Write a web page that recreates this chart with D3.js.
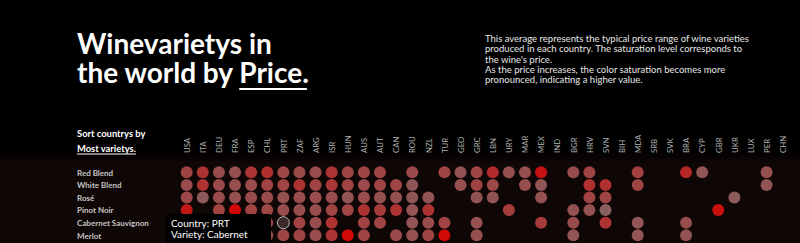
<!DOCTYPE html>
<html>
<head>
<meta charset="utf-8">
<script src="https://cdn.jsdelivr.net/npm/d3@7"></script>
<style>
  html, body { margin: 0; padding: 0; background: #000; overflow: hidden; }
  svg { display: block; font-family: Lato, "Open Sans", sans-serif; }
</style>
</head>
<body>
<script>
const WIDTH = 800
const HEIGHT = 243

// countries, sorted by number of varieties
const countries = ["USA","ITA","DEU","FRA","ESP","CHL","PRT","ZAF","ARG","ISR","HUN","AUS","AUT","CAN","ROU","NZL","TUR","GEO","GRC","LBN","URY","MAR","MEX","IND","BGR","HRV","SVN","BIH","MDA","SRB","SVK","BRA","CYP","GBR","UKR","LUX","PER","CHN"]
const varieties = ["Red Blend","White Blend","Rosé","Pinot Noir","Cabernet Sauvignon","Merlot"]

// average price ($) per country, null = not produced
const redBlend   = [30,38,25,24,38,40,28,27,25,38,30,29,30,null,26,null,30,22,30,42,24,24,55,null,25,30,null,null,32,null,null,44,21,null,null,null,23,null]
const whiteBlend = [26,38,26,24,25,30,29,38,30,36,30,26,30,29,20,null,null,24,30,27,null,24,20,null,null,40,40,null,30,null,null,null,null,null,null,null,21,null]
const rose       = [27,18,25,23,25,25,23,25,25,25,21,25,23,23,20,21,null,null,22,22,null,null,23,null,null,30,29,null,null,null,null,null,null,null,18,null,null,null]
const pinotNoir  = [52,null,30,60,30,28,25,25,25,30,30,38,33,38,21,38,null,null,null,null,33,null,null,null,23,23,15,null,null,null,null,null,null,57,null,null,null,null]
const cabernet   = [45,35,28,40,30,28,22,30,25,38,null,30,30,null,21,25,30,null,23,null,null,null,34,null,25,null,38,null,21,null,null,25,null,null,null,null,null,null]
const merlot     = [30,28,25,35,25,25,29,30,25,38,60,30,null,26,23,30,60,null,23,null,null,null,null,null,21,null,null,null,21,null,null,22,null,null,null,null,null,null]
const prices = [redBlend, whiteBlend, rose, pinotNoir, cabernet, merlot]

const svg = d3.select("body").append("svg")
    .attr("width", WIDTH)
    .attr("height", HEIGHT)

// background
const defs = svg.append("defs")
const grad = defs.append("linearGradient").attr("id", "panel").attr("x1", 0).attr("y1", 0).attr("x2", 0).attr("y2", 1)
grad.append("stop").attr("offset", "0%").attr("stop-color", "#000")
grad.append("stop").attr("offset", "12%").attr("stop-color", "#0f0606")
grad.append("stop").attr("offset", "100%").attr("stop-color", "#0f0606")

svg.append("rect").attr("width", WIDTH).attr("height", HEIGHT).attr("fill", "#000")
svg.append("rect").attr("x", 0).attr("y", 152).attr("width", WIDTH).attr("height", HEIGHT - 152).attr("fill", "url(#panel)")

//------- Titre -------
const title1 = svg.append("text")
    .attr("x", 77).attr("y", 54)
    .attr("fill", "#fff")
    .attr("font-size", 26)
    .attr("font-weight", 700)
    .text("Winevarietys in")
const title2 = svg.append("text")
    .attr("x", 77).attr("y", 82.5)
    .attr("fill", "#fff")
    .attr("font-size", 26)
    .attr("font-weight", 700)
const line2 = title2.append("tspan").text("the world by ")
const price = title2.append("tspan").text("Price.")

// fit title to the width of the original
const fs = 26 * 232 / title2.node().getComputedTextLength()
title1.attr("font-size", fs)
title2.attr("font-size", fs)

const w1 = line2.node().getComputedTextLength()
const w2 = price.node().getComputedTextLength()
svg.append("rect")
    .attr("x", 77 + w1)
    .attr("y", 88)
    .attr("width", w2 - 2)
    .attr("height", 2)
    .attr("fill", "#fff")

//------- Description -------
const desc = [
  "This average represents the typical price range of wine varieties",
  "produced in each country. The saturation level corresponds to",
  "the wine's price.",
  "As the price increases, the color saturation becomes more",
  "pronounced, indicating a higher value."
]
const descText = svg.append("text")
    .attr("fill", "#e6e6e6")
    .attr("font-size", 9.2)
descText.selectAll("tspan")
    .data(desc)
    .join("tspan")
    .attr("x", 485)
    .attr("y", (d, i) => 41.7 + i * 10.4)
    .text(d => d)
const firstLine = descText.select("tspan").node().getComputedTextLength()
descText.attr("font-size", 9.2 * 264 / firstLine)

//------- Sort -------
svg.append("text").text("Sort countrys by")
    .attr("x", 77).attr("y", 136.5)
    .attr("fill", "#fff").attr("font-size", 9.4).attr("font-weight", 700)
const sortBy = svg.append("text").text("Most varietys.")
    .attr("x", 77).attr("y", 151.5)
    .attr("fill", "#fff").attr("font-size", 9.4).attr("font-weight", 700)
svg.append("rect")
    .attr("x", 77).attr("y", 153.5)
    .attr("width", sortBy.node().getComputedTextLength())
    .attr("height", 1)
    .attr("fill", "#fff")

//------- Scales -------
const x = d3.scalePoint().domain(countries).range([186.7, 782.7])
const y = d3.scalePoint().domain(varieties).range([172.3, 235.3])
const color = d3.scaleLinear()
    .domain([15, 60])
    .range(["#886060", "#d00808"])
    .clamp(true)

//------- Axes -------
const xAxis = svg.append("g")
    .attr("transform", "translate(0,153)")
    .call(d3.axisTop(x).tickSize(0))
xAxis.select(".domain").remove()
xAxis.selectAll("text")
    .attr("transform", "rotate(-90)")
    .attr("x", 0)
    .attr("y", 0)
    .attr("dy", "0.35em")
    .attr("text-anchor", "start")
    .attr("fill", "#b0b0b0")
    .attr("font-size", 7.8)
    .attr("font-family", "Lato, sans-serif")

const yAxis = svg.append("g")
    .attr("transform", "translate(77,0)")
    .call(d3.axisLeft(y).tickSize(0))
yAxis.select(".domain").remove()
yAxis.selectAll("text")
    .attr("x", 0)
    .attr("dy", "0.34em")
    .attr("text-anchor", "start")
    .attr("fill", "#c4c4c4")
    .attr("font-size", 8)
    .attr("font-weight", 700)
    .attr("font-family", "Lato, sans-serif")

//------- Données -------
const cells = []
varieties.forEach((v, i) => {
  prices[i].forEach((p, j) => {
    if (p != null) cells.push({ variety: v, country: countries[j], price: p })
  })
})

const hovered = { country: "PRT", variety: "Cabernet Sauvignon" }

svg.append("g").selectAll("circle")
    .data(cells)
    .join("circle")
    .attr("cx", d => x(d.country))
    .attr("cy", d => y(d.variety))
    .attr("r", 6)
    .attr("fill", d => color(d.price))
    .filter(d => d.country === hovered.country && d.variety === hovered.variety)
    .attr("fill", "#3a2a2a")
    .attr("stroke", "#bdbdbd")
    .attr("stroke-width", 1)

//------- Tooltip -------
const tip = svg.append("g").attr("transform", "translate(166,214)")
tip.append("rect")
    .attr("width", 105)
    .attr("height", 45)
    .attr("rx", 2)
    .attr("fill", "#000")
tip.append("text")
    .attr("fill", "#fff")
    .attr("font-size", 10)
    .selectAll("tspan")
    .data(["Country: " + hovered.country, "Variety: Cabernet", "Sauvignon"])
    .join("tspan")
    .attr("x", 5)
    .attr("y", (d, i) => 12.7 + i * 11.6)
    .text(d => d)
</script>
</body>
</html>
